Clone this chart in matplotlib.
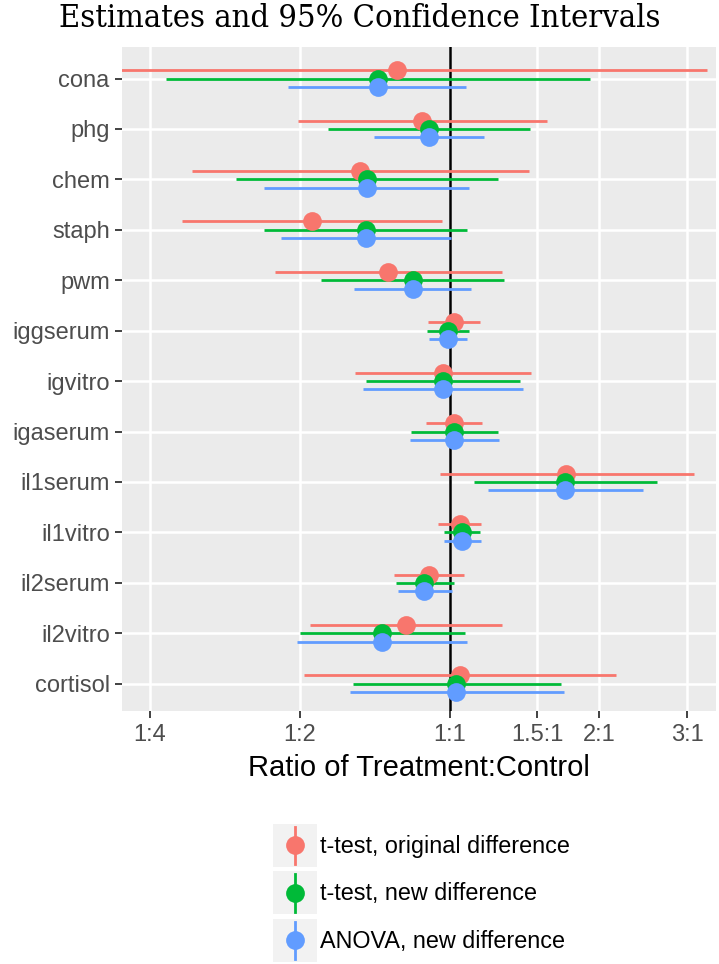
"""Forest plot — ratio estimates and 95% confidence intervals"""
import matplotlib
matplotlib.use("Agg")
import matplotlib.pyplot as plt
from matplotlib.legend_handler import HandlerBase
from matplotlib.patches import Rectangle
from matplotlib.lines import Line2D
import numpy as np

# outcomes, top to bottom
outcomes = ["cona", "phg", "chem", "staph", "pwm", "iggserum", "igvitro",
            "igaserum", "il1serum", "il1vitro", "il2serum", "il2vitro", "cortisol"]

methods = ["t-test, original difference", "t-test, new difference",
           "ANOVA, new difference"]
colors = ["#F8766D", "#00BA38", "#619CFF"]

# ratio estimates (treatment:control) and CI bounds
orig_est = [0.785, 0.882, 0.661, 0.529, 0.754, 1.020, 0.969, 1.020, 1.716, 1.048, 0.909, 0.819, 1.048]
orig_lo = [0.19, 0.497, 0.304, 0.290, 0.446, 0.906, 0.647, 0.896, 0.955, 0.947, 0.775, 0.525, 0.509]
orig_hi = [3.29, 1.569, 1.443, 0.964, 1.275, 1.151, 1.456, 1.162, 3.093, 1.155, 1.070, 1.275, 2.163]

new_est = [0.717, 0.909, 0.682, 0.679, 0.843, 0.991, 0.969, 1.020, 1.706, 1.060, 0.890, 0.731, 1.032]
new_lo = [0.269, 0.569, 0.372, 0.424, 0.551, 0.899, 0.681, 0.838, 1.122, 0.977, 0.780, 0.500, 0.639]
new_hi = [1.911, 1.451, 1.254, 1.085, 1.286, 1.096, 1.386, 1.249, 2.606, 1.153, 1.020, 1.072, 1.673]

anova_est = [0.717, 0.909, 0.682, 0.679, 0.843, 0.991, 0.969, 1.020, 1.706, 1.060, 0.890, 0.731, 1.032]
anova_lo = [0.474, 0.705, 0.424, 0.458, 0.643, 0.908, 0.671, 0.832, 1.196, 0.975, 0.789, 0.494, 0.630]
anova_hi = [1.081, 1.172, 1.096, 1.006, 1.103, 1.084, 1.406, 1.259, 2.444, 1.155, 1.011, 1.085, 1.697]

x_ticks = [0.25, 0.5, 1, 1.5, 2, 3]
x_ticklabels = ["1:4", "1:2", "1:1", "1.5:1", "2:1", "3:1"]

series = [(orig_est, orig_lo, orig_hi), (new_est, new_lo, new_hi),
          (anova_est, anova_lo, anova_hi)]
dodge = [-0.165, 0.0, 0.165]

plt.rcParams["font.family"] = ["Liberation Sans", "DejaVu Sans"]

fig = plt.figure(figsize=(7.19, 9.64), dpi=100)
ax = fig.add_axes([0.170, 0.262, 0.826, 0.689])
ax.set_facecolor("#EBEBEB")

ypos = np.arange(len(outcomes))
for (est, lo, hi), off, col in zip(series, dodge, colors):
    y = ypos + off
    ax.hlines(y, lo, hi, color=col, lw=2.0, zorder=3)
    ax.plot(est, y, "o", color=col, ms=13.5, mec="none", zorder=4)

ax.axvline(1, color="black", lw=1.8, zorder=2)

ax.set_xscale("log", base=2)
ax.set_xlim(2 ** -2.184, 2 ** 1.779)
ax.set_xticks(x_ticks)
ax.set_xticklabels(x_ticklabels)
ax.minorticks_off()
ax.set_yticks(ypos)
ax.set_yticklabels(outcomes)
ax.set_ylim(len(outcomes) - 0.45, -0.62)

ax.grid(True, color="white", lw=1.8, zorder=0)
ax.set_axisbelow(True)
for s in ax.spines.values():
    s.set_visible(False)
ax.tick_params(axis="both", colors="#333333", length=5, width=1.3,
               labelsize=17, labelcolor="#4D4D4D", pad=4)

ax.set_xlabel("Ratio of Treatment:Control", fontsize=21, labelpad=6)
fig.text(0.5, 0.981, "Estimates and 95% Confidence Intervals",
         ha="center", va="center", fontsize=23.4, family=["DejaVu Serif"],
         fontstretch="condensed")


class KeyHandler(HandlerBase):
    """pointrange key: grey square, vertical bar, point"""

    def create_artists(self, legend, orig_handle, xdescent, ydescent,
                       width, height, fontsize, trans):
        col = orig_handle.get_color()
        x0, y0 = -xdescent, -ydescent
        bg = Rectangle((x0, y0), width, height, facecolor="#F2F2F2",
                       edgecolor="none", transform=trans)
        cx = x0 + width / 2
        vline = Line2D([cx, cx], [y0 + 2, y0 + height - 2],
                       color=col, lw=2.0, transform=trans)
        pt = Line2D([cx], [y0 + height / 2], marker="o", ms=13.5,
                    color=col, mec="none", transform=trans)
        return [bg, vline, pt]


handles = [Line2D([], [], color=c) for c in colors]
fig.legend(handles, methods, loc="center", bbox_to_anchor=(0.586, 0.0737),
           frameon=False, fontsize=16.8, handler_map={Line2D: KeyHandler()},
           handlelength=1.89, handleheight=2.46, handletextpad=0.13,
           labelspacing=0.19)

fig.savefig("out.png", dpi=100)
